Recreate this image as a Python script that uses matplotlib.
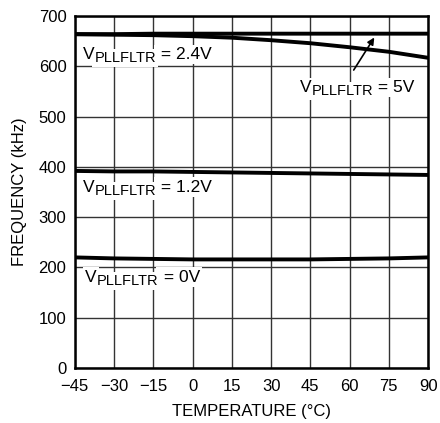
import matplotlib
matplotlib.use("Agg")
import matplotlib.pyplot as plt
from matplotlib import font_manager

# ── data ────────────────────────────────────────────────────────────────────
temps = [-45, -30, -15, 0, 15, 30, 45, 60, 75, 90]
f_5v = [664, 664, 665, 665, 665, 665, 665, 665, 665, 665]
f_2v4 = [664, 663, 662, 660, 657, 652, 646, 638, 629, 617]
f_1v2 = [392, 391, 391, 390, 389, 388, 387, 386, 385, 384]
f_0v = [220, 218, 217, 216, 216, 216, 216, 217, 218, 220]

x_ticks = [-45, -30, -15, 0, 15, 30, 45, 60, 75, 90]
y_ticks = [0, 100, 200, 300, 400, 500, 600, 700]

# ── font ────────────────────────────────────────────────────────────────────
names = {f.name for f in font_manager.fontManager.ttflist}
family = "Liberation Sans Narrow" if "Liberation Sans Narrow" in names else "Liberation Sans"
plt.rcParams["font.family"] = [family, "DejaVu Sans"]
plt.rcParams["axes.unicode_minus"] = True

fig = plt.figure(figsize=(4.4, 4.23), dpi=100)
ax = fig.add_axes([0.170, 0.130, 0.803, 0.832])

for y in (f_5v, f_2v4, f_1v2, f_0v):
    ax.plot(temps, y, color="black", linewidth=2.8, solid_capstyle="butt", zorder=3)

ax.set_xlim(-45, 90)
ax.set_ylim(0, 700)
ax.set_xticks(x_ticks)
ax.set_yticks(y_ticks)
ax.set_xticklabels([str(t).replace("-", "\u2212") for t in x_ticks])
ax.tick_params(length=0, labelsize=12, colors="black")
ax.tick_params(axis="x", pad=8)
ax.tick_params(axis="y", pad=6)
ax.grid(True, color="#333333", linewidth=1.0, zorder=0)
ax.set_axisbelow(True)
for s in ax.spines.values():
    s.set_linewidth(1.8)

ax.set_xlabel("TEMPERATURE (°C)", fontsize=12, labelpad=7)
ax.set_ylabel("FREQUENCY (kHz)", fontsize=12, labelpad=8)


# ── curve labels: V + lowered PLLFLTR + value, on white boxes ───────────────
def _pieces(x, y, v, box, z, color):
    t1 = ax.text(x, y, "V", fontsize=12.5, ha="left", va="center", bbox=box,
                 zorder=z, color=color)
    t2 = ax.annotate("PLLFLTR", xy=(1, 0), xycoords=t1, xytext=(0, -2.5),
                     textcoords="offset points", fontsize=10.5, ha="left",
                     va="bottom", bbox=box, zorder=z, color=color)
    ax.annotate(" = " + v, xy=(1, 0), xycoords=t2, xytext=(0, 2.5),
                textcoords="offset points", fontsize=12.5, ha="left",
                va="bottom", bbox=box, zorder=z, color=color)


def label(x, y, v):
    # white boxes first, then the black text on top so no box clips a glyph
    _pieces(x, y, v, dict(facecolor="white", edgecolor="none", pad=1.5), 2, "white")
    _pieces(x, y, v, None, 2.5, "black")


label(-42, 624, "2.4V")
label(-42, 360, "1.2V")
label(-41, 181, "0V")
label(41, 558, "5V")

ax.annotate("", xy=(70, 662), xytext=(61, 588),
            arrowprops=dict(arrowstyle="-|>", color="black", lw=1.2,
                            mutation_scale=10), zorder=4)

fig.savefig("out.png", dpi=100)
